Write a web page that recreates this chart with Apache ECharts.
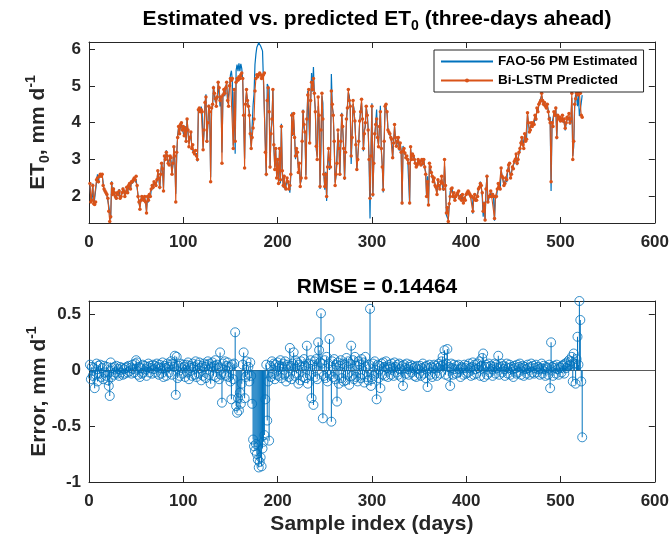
<!DOCTYPE html>
<html><head><meta charset="utf-8">
<script src="https://cdn.jsdelivr.net/npm/echarts@6/dist/echarts.min.js"></script>
<style>html,body{margin:0;padding:0;background:#fff}#c{width:672px;height:542px}</style>
</head><body><div id="c"></div>
<script>
// Bi-LSTM predicted ET0 (mm/d), sample index 1..523
const predicted = [
2.35,1.85,1.9,2.3,1.8,1.78,1.85,2.45,2.5,2.4,
2.55,2.6,2.55,2.6,2.3,2.2,2.15,2.1,2.05,1.95,
1.6,1.32,1.45,2.35,2.05,2.2,2.1,2.0,1.95,2.1,
2.05,2.15,1.95,2.0,2.1,2.2,2.15,2.0,2.1,2.25,
2.1,2.3,2.35,2.2,2.4,2.4,2.45,2.5,2.45,2.55,
2.3,2.0,1.85,1.65,1.9,2.0,1.95,1.9,2.0,1.85,
1.55,2.0,1.9,2.05,2.0,2.2,2.3,2.25,2.4,2.35,
2.3,2.45,2.7,2.5,2.25,2.6,2.9,2.75,2.15,3.1,
3.0,3.2,3.1,2.9,2.85,3.1,3.05,2.6,2.9,3.35,
3.1,1.85,3.2,3.6,3.9,3.7,3.95,4.0,3.8,3.9,
3.65,3.85,3.5,4.1,3.8,3.35,3.6,3.75,3.3,3.4,
3.2,3.15,3.25,3.1,3.0,4.35,4.4,4.3,4.35,4.3,
3.27,3.8,4.55,4.7,3.5,4.0,4.45,4.3,2.4,4.4,
4.5,4.95,4.8,4.65,4.45,4.7,5.1,4.95,4.6,4.7,
2.9,4.75,4.9,4.8,4.95,5.1,4.6,4.45,5.0,5.2,
5.15,5.2,3.3,4.9,3.5,5.1,5.2,5.15,5.25,5.2,
5.3,5.35,5.2,4.2,2.77,4.5,4.9,4.6,4.45,4.2,
3.7,3.3,3.6,3.86,4.1,4.86,5.2,5.3,5.25,5.3,
5.35,5.3,5.2,5.25,5.3,5.35,3.2,2.6,4.6,4.95,
4.3,2.8,3.7,4.1,4.9,3.4,2.73,3.3,2.5,3.0,
2.35,3.3,2.45,3.9,2.7,2.3,2.55,2.25,2.2,2.5,
2.4,2.2,2.3,2.6,4.2,3.7,4.25,3.6,3.1,3.3,
3.2,2.65,2.9,2.27,2.5,3.5,4.3,3.95,3.75,2.5,
4.1,4.75,4.9,3.45,4.6,5.1,4.9,5.2,4.8,4.3,
3.36,3.0,4.7,4.2,2.27,3.8,4.8,4.1,2.6,2.27,
2.6,2.0,2.8,3.3,3.0,2.8,4.86,4.5,4.2,3.5,
2.3,2.6,2.9,3.8,3.3,2.6,3.5,4.2,3.9,3.3,
2.5,3.2,4.1,4.4,4.9,4.6,4.45,3.1,3.6,4.6,
4.3,4.05,3.4,2.73,3.0,3.5,4.05,4.3,4.64,4.1,
3.3,3.7,4.0,4.45,4.2,3.8,3.0,1.95,3.1,4.45,
2.05,2.9,3.7,3.95,4.1,3.6,3.35,3.9,4.3,3.3,
2.8,2.18,3.5,4.45,4.5,4.3,3.8,3.75,3.7,3.6,
3.55,3.05,3.45,3.95,3.6,3.36,3.5,3.6,3.3,3.45,
3.2,1.82,3.23,3.3,3.18,3.05,3.1,3.0,2.9,1.82,
3.35,3.0,3.15,3.1,3.0,2.9,2.8,2.85,3.0,2.9,
2.95,2.85,3.0,2.9,3.0,2.8,2.6,2.0,2.4,1.77,
2.9,2.8,2.65,2.55,2.4,2.5,2.3,2.25,2.05,2.45,
2.3,2.2,2.4,2.55,2.35,2.2,3.0,2.3,1.55,1.7,
1.32,1.8,2.0,2.2,2.23,2.0,2.1,1.9,2.0,2.05,
2.1,2.15,1.95,2.0,1.9,2.05,1.82,1.95,1.9,2.05,
2.1,2.15,2.1,2.05,2.0,2.0,1.6,1.95,2.05,1.9,
1.9,2.0,2.2,2.25,2.35,2.3,2.1,1.6,1.8,1.36,
2.2,2.55,1.85,2.0,2.0,2.15,2.0,2.05,2.0,1.4,
2.0,2.0,2.2,2.35,2.25,2.2,2.77,2.55,2.5,2.3,
2.35,2.5,2.45,2.7,2.85,2.9,2.5,2.6,2.8,2.75,
2.95,3.0,3.15,2.9,3.0,3.2,3.3,3.45,3.6,3.4,
3.3,3.7,3.5,3.55,4.27,4.0,3.75,3.8,4.0,3.9,
4.0,3.95,4.2,4.1,4.4,4.3,4.5,4.55,4.6,4.8,
4.6,4.5,4.55,4.45,4.4,4.5,4.3,4.1,4.0,2.4,
4.0,3.9,4.3,4.2,4.4,3.6,4.2,4.1,4.15,4.05,
4.1,4.2,4.05,4.1,3.85,4.0,4.15,4.1,4.25,4.0,
4.1,4.8,3.0,3.5,4.5,4.65,4.8,4.75,4.8,4.8,
4.8,4.2,4.15
];
// Error = predicted - estimated (mm/d)
const errorVals = [
0.05,-0.08,0.03,-0.05,0.02,-0.16,-0.04,0.06,-0.1,0.04,
-0.03,0.05,-0.06,0.02,-0.08,0.04,-0.02,-0.05,0.03,-0.09,
-0.14,-0.23,0.07,-0.06,0.02,-0.04,0.03,-0.02,0.04,-0.03,
0.01,-0.05,0.03,-0.02,0.02,-0.04,0.01,-0.03,0.02,0.03,
-0.02,0.04,-0.01,0.02,-0.03,0.05,0.01,-0.02,0.06,0.09,
0.07,-0.04,0.03,-0.06,0.02,-0.03,0.05,-0.02,0.04,0.01,
-0.05,0.03,0.06,-0.02,0.04,0.02,-0.03,0.05,0.01,0.04,
-0.02,0.06,0.03,-0.04,0.05,0.02,-0.03,0.07,-0.06,0.04,
0.02,-0.05,0.06,0.03,-0.02,0.05,0.08,-0.04,0.06,0.03,
0.13,-0.22,0.12,-0.07,0.04,-0.05,0.06,0.02,-0.03,0.05,
0.03,-0.06,0.05,-0.02,0.07,-0.08,0.04,0.02,-0.05,0.06,
0.03,-0.04,0.08,-0.06,0.05,-0.03,0.07,0.02,-0.09,0.04,
-0.05,0.06,0.03,-0.07,0.05,0.08,-0.04,0.06,-0.12,0.03,
0.07,-0.05,0.04,0.09,-0.06,0.05,0.02,-0.08,0.16,-0.04,
-0.29,0.06,-0.03,0.08,-0.05,0.04,0.07,-0.06,0.03,-0.1,
-0.26,0.05,-0.08,0.06,0.34,-0.32,-0.38,-0.25,-0.36,-0.2,
-0.3,-0.12,0.05,0.16,-0.25,-0.06,0.08,-0.04,0.03,-0.1,
0.07,-0.05,-0.3,-0.62,-0.68,-0.72,-0.66,-0.75,-0.8,-0.87,
-0.82,-0.78,-0.86,-0.7,-0.64,-0.58,-0.26,0.05,-0.45,-0.1,
-0.63,0.04,-0.06,0.08,-0.03,0.06,-0.08,0.05,-0.04,0.07,
-0.05,0.04,0.09,-0.07,0.03,0.06,-0.04,0.08,-0.1,0.05,
0.03,-0.06,0.2,0.04,-0.08,0.06,0.16,-0.05,0.09,-0.03,
0.07,-0.12,0.05,-0.09,0.08,0.03,-0.06,0.1,0.04,-0.07,
0.22,-0.12,0.06,-0.04,0.09,-0.25,0.05,-0.31,0.08,-0.06,
0.1,-0.08,0.25,0.18,0.07,0.51,0.06,-0.43,-0.05,0.09,
-0.07,0.12,-0.1,0.06,0.28,-0.04,-0.46,0.08,-0.06,0.1,
-0.08,0.05,-0.28,0.07,-0.12,0.04,0.09,-0.07,0.06,-0.1,
0.05,-0.09,0.11,-0.04,0.08,-0.13,0.06,0.22,-0.05,0.09,
-0.08,0.12,-0.06,0.04,-0.1,0.08,0.05,-0.07,0.1,-0.04,
0.07,-0.11,0.12,0.03,-0.06,-0.09,0.05,0.55,-0.14,-0.08,
0.06,-0.05,0.08,-0.03,-0.26,0.05,-0.07,0.04,-0.16,0.06,
-0.04,0.07,0.03,-0.05,0.08,0.02,-0.06,0.05,0.03,-0.04,
0.06,0.02,-0.05,0.07,0.03,-0.02,0.05,-0.04,0.06,0.01,
-0.06,0.04,-0.14,0.05,0.02,-0.03,0.06,0.01,-0.04,0.03,
0.05,-0.02,0.04,0.02,-0.05,0.03,-0.06,0.04,0.01,-0.03,
0.04,-0.05,0.02,0.06,-0.03,0.03,-0.07,0.04,-0.15,0.02,
0.05,-0.04,0.03,-0.06,0.02,0.05,-0.03,0.04,-0.05,0.02,
0.06,-0.03,0.04,0.08,0.12,0.05,0.18,-0.04,0.06,0.19,
-0.05,0.03,-0.14,0.06,0.02,-0.04,0.05,0.01,-0.03,0.04,
-0.02,0.05,0.01,-0.06,0.03,0.02,-0.04,0.05,0.02,-0.03,
0.04,-0.02,0.06,0.02,-0.05,0.03,0.07,-0.04,0.05,0.01,
-0.03,0.06,0.02,0.08,-0.05,0.04,0.11,0.15,-0.06,0.03,
0.05,-0.04,0.03,0.06,-0.02,0.04,0.01,-0.05,0.03,0.06,
-0.03,0.05,0.02,0.13,-0.04,0.03,0.06,-0.02,0.04,0.01,
-0.05,0.03,0.06,-0.03,0.02,0.05,-0.04,0.03,0.01,-0.06,
0.04,0.02,-0.03,0.05,-0.02,0.03,0.06,-0.04,0.02,0.04,
-0.05,0.03,0.01,-0.03,0.05,0.02,-0.04,0.03,0.06,-0.02,
0.04,-0.03,0.02,0.05,-0.02,0.03,0.01,-0.04,0.02,0.06,
-0.03,0.04,0.01,-0.05,0.03,0.02,-0.04,0.05,-0.16,0.25,
0.03,-0.05,0.04,0.02,-0.03,0.05,0.01,-0.04,0.03,0.02,
-0.02,0.04,0.05,-0.03,0.06,0.02,0.07,0.04,0.09,0.05,
0.08,0.12,-0.1,0.15,0.06,-0.12,0.1,0.3,0.05,0.62,
0.45,-0.1,-0.6
];
const seriesNames = ['FAO-56 PM Estimated', 'Bi-LSTM Predicted'];
const rmseText = 'RMSE = 0.14464';

const days = predicted.map((_, i) => i + 1);
const estimated = predicted.map((v, i) => +(v - errorVals[i]).toFixed(3));

const FONT = 'Liberation Sans, Arial, Helvetica, sans-serif';
const AX = '#262626';
const BLUE = '#0072BD', ORANGE = '#D95319';

function baseAxis(extra) {
  return Object.assign({
    nameMoveOverlap: false,
    axisLine: {show: true, onZero: false, lineStyle: {color: AX, width: 1}},
    axisTick: {show: true, inside: true, length: 6, lineStyle: {color: AX, width: 1}},
    axisLabel: {color: AX, fontSize: 17, fontWeight: 'bold', fontFamily: FONT, margin: 11},
    splitLine: {show: false}
  }, extra);
}
const isMult = (v, s) => Math.abs(v / s - Math.round(v / s)) < 1e-6;
const richName = {
  b: {fontSize: 21, fontWeight: 'bold', fontFamily: FONT, color: AX, lineHeight: 28},
  sub: {fontSize: 14, fontWeight: 'bold', fontFamily: FONT, color: AX, lineHeight: 14, verticalAlign: 'bottom'},
  sup: {fontSize: 14, fontWeight: 'bold', fontFamily: FONT, color: AX, lineHeight: 14, verticalAlign: 'top'}
};
const richTitle = {
  b: {fontSize: 21, fontWeight: 'bold', fontFamily: FONT, color: '#000', lineHeight: 28},
  sub: {fontSize: 14, fontWeight: 'bold', fontFamily: FONT, color: '#000', lineHeight: 14, verticalAlign: 'bottom'}
};

const chart = echarts.init(document.getElementById('c'), null, {renderer: 'canvas'});
chart.setOption({
  animation: false,
  backgroundColor: '#fff',
  title: [
    {text: '{b|Estimated vs. predicted ET}{sub|0}{b| (three-days ahead)}', left: 372, top: 0, textAlign: 'center',
     textStyle: {rich: richTitle}},
    {text: rmseText, left: 372, top: 272, textAlign: 'center',
     textStyle: {fontSize: 21, fontWeight: 'bold', fontFamily: FONT, color: '#000'}}
  ],
  legend: {
    left: 434, top: 50, orient: 'vertical',
    data: [{name: seriesNames[0], itemStyle: {opacity: 0}}, {name: seriesNames[1]}],
    itemWidth: 52, itemHeight: 5, itemGap: 2,
    padding: [3, 6, 3, 6],
    backgroundColor: '#fff', borderColor: AX, borderWidth: 1, borderRadius: 0,
    textStyle: {fontSize: 13.5, fontWeight: 'bold', fontFamily: FONT, color: '#000', lineHeight: 17}
  },
  grid: [
    {left: 89, top: 42, width: 566, height: 181, containLabel: false},
    {left: 89, top: 301, width: 566, height: 181, containLabel: false}
  ],
  xAxis: [
    baseAxis({type: 'value', gridIndex: 0, min: 0, max: 600, interval: 100, position: 'bottom'}),
    baseAxis({type: 'value', gridIndex: 0, min: 0, max: 600, interval: 100, position: 'top', axisLabel: {show: false}}),
    baseAxis({type: 'value', gridIndex: 1, min: 0, max: 600, interval: 100, position: 'bottom',
      name: 'Sample index (days)', nameLocation: 'middle', nameGap: 32,
      nameTextStyle: {fontSize: 21, fontWeight: 'bold', fontFamily: FONT, color: AX}}),
    baseAxis({type: 'value', gridIndex: 1, min: 0, max: 600, interval: 100, position: 'top', axisLabel: {show: false}})
  ],
  yAxis: [
    baseAxis({type: 'value', gridIndex: 0, min: 1.28, max: 6.19, splitNumber: 5, position: 'left',
      axisLabel: {color: AX, fontSize: 17, fontWeight: 'bold', fontFamily: FONT, margin: 8,
        formatter: v => isMult(v, 1) ? String(v) : ''},
      name: '{b|ET}{sub|0}{b|, mm d}{sup|-1}', nameLocation: 'middle', nameRotate: 90, nameGap: 37,
      nameTextStyle: {rich: richName}}),
    baseAxis({type: 'value', gridIndex: 0, min: 1.28, max: 6.19, splitNumber: 5, position: 'right', axisLabel: {show: false}}),
    baseAxis({type: 'value', gridIndex: 1, min: -1, max: 0.62, interval: 0.5, position: 'left',
      axisLabel: {color: AX, fontSize: 17, fontWeight: 'bold', fontFamily: FONT, margin: 8,
        formatter: v => isMult(v, 0.5) ? String(v) : ''},
      name: '{b|Error, mm d}{sup|-1}', nameLocation: 'middle', nameRotate: 90, nameGap: 36,
      nameTextStyle: {rich: richName}}),
    baseAxis({type: 'value', gridIndex: 1, min: -1, max: 0.62, interval: 0.5, position: 'right', axisLabel: {show: false}})
  ],
  series: [
    {name: seriesNames[0], type: 'line', xAxisIndex: 0, yAxisIndex: 0,
     data: days.map((d, i) => [d, estimated[i]]), symbol: 'none',
     lineStyle: {color: BLUE, width: 1.2}, itemStyle: {color: BLUE}, z: 2},
    {name: seriesNames[1], type: 'line', xAxisIndex: 0, yAxisIndex: 0,
     data: days.map((d, i) => [d, predicted[i]]), symbol: 'circle', symbolSize: 3.5, showAllSymbol: true,
     lineStyle: {color: ORANGE, width: 1.1}, itemStyle: {color: ORANGE}, z: 3},
    {name: 'stems', type: 'bar', xAxisIndex: 2, yAxisIndex: 2, barWidth: 1,
     data: days.map((d, i) => [d, errorVals[i]]), itemStyle: {color: BLUE}, z: 2,
     markLine: {silent: true, symbol: 'none', label: {show: false}, z: 1,
       lineStyle: {color: '#5a5a5a', width: 1, type: 'solid'}, data: [{yAxis: 0}]}},
    {name: 'markers', type: 'scatter', xAxisIndex: 2, yAxisIndex: 2, symbol: 'circle', symbolSize: 9, clip: false,
     data: days.map((d, i) => [d, errorVals[i]]),
     itemStyle: {color: 'rgba(0,0,0,0)', borderColor: BLUE, borderWidth: 1}, z: 3}
  ]
});
</script></body></html>
